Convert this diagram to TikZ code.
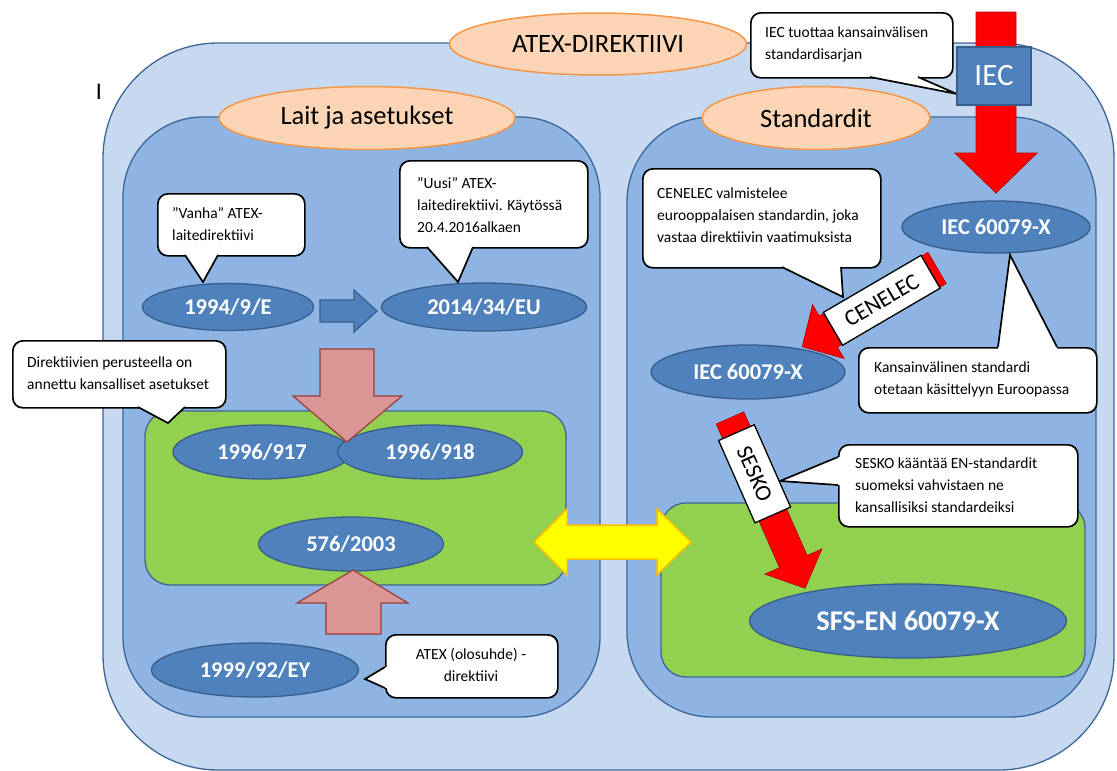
\documentclass[tikz,border=0pt]{standalone}
\usepackage{fontspec}
\setmainfont{Carlito}
\usetikzlibrary{shapes.geometric}
\definecolor{outerblue}{HTML}{C6D9F1}
\definecolor{panelblue}{HTML}{8DB4E2}
\definecolor{edgeblue}{HTML}{3D6696}
\definecolor{darkblue}{HTML}{4F81BD}
\definecolor{darkedge}{HTML}{385D8A}
\definecolor{grn}{HTML}{92D050}
\definecolor{peach}{HTML}{FBD5B5}
\definecolor{peachedge}{HTML}{F79646}
\definecolor{pinkfill}{HTML}{D99694}
\definecolor{pinkedge}{HTML}{9C3C3A}
\definecolor{yel}{HTML}{FFFF00}
\definecolor{yeledge}{HTML}{FFC000}
\definecolor{redarrow}{HTML}{FF0000}
\definecolor{redge}{HTML}{C00000}
\tikzset{
  outerbox/.style={fill=outerblue, draw=edgeblue, line width=1.3pt},
  panel/.style={fill=panelblue, draw=edgeblue, line width=1.3pt},
  greenbox/.style={fill=grn, draw=edgeblue, line width=1.3pt, rounded corners=25pt},
  titleell/.style={ellipse, fill=peach, draw=peachedge, line width=1.5pt, inner sep=0pt, text=black, font=\fontsize{26.5}{30}\selectfont},
  blueell/.style={ellipse, fill=darkblue, draw=darkedge, line width=1.3pt, inner sep=0pt, text=white, font=\bfseries\fontsize{22.5}{26}\selectfont},
  calloutbox/.style={rectangle, rounded corners=10pt, fill=white, draw=black, line width=1.7pt, inner sep=0pt},
  callouttext/.style={inner sep=0pt, align=left, text=black, font=\fontsize{15.5}{22}\selectfont},
  pointerfill/.style={fill=white},
  pointerline/.style={draw=black, line width=1.7pt, line join=miter},
  pinkarrow/.style={fill=pinkfill, draw=pinkedge, line width=1.2pt, line join=miter},
  bluearrow/.style={fill=darkblue, draw=darkedge, line width=1.2pt, line join=miter},
  yelarrow/.style={fill=yel, draw=yeledge, line width=1.5pt, line join=miter},
  redfill/.style={fill=redarrow, draw=redge, line width=0.8pt, line join=miter},
  labelbox/.style={rectangle, draw=black, fill=white, line width=1.3pt, inner sep=0pt, font=\fontsize{23}{25}\selectfont},
}
\begin{document}
\begin{tikzpicture}[x=1pt,y=-1pt]
\useasboundingbox (0,0) rectangle (1117,771);
% containers
\draw[outerbox, rounded corners=115pt] (103,43) rectangle (1114,770);
\draw[panel, rounded corners=80pt] (123,117) rectangle (600,717);
\draw[panel, rounded corners=85pt] (627,117) rectangle (1096,717);
\draw[greenbox] (145,411) rectangle (566,585);
\draw[greenbox] (661,503) rectangle (1085,677);
% titles
\node[titleell, minimum width=297pt, minimum height=62pt] (atex) at (598,44) {ATEX-DIREKTIIVI};
\node[titleell, minimum width=296pt, minimum height=63pt] (lait) at (367,118) {Lait ja asetukset};
\node[titleell, minimum width=228pt, minimum height=63pt] (std) at (816,118) {Standardit};
\node[inner sep=0pt, font=\fontsize{24}{28}\selectfont] (cursor) at (99,92) {I};
% IEC arrow and box
\draw[redfill] (976,12) -- (1016,12) -- (1016,153) -- (1037,153) -- (996,193) -- (955,153) -- (976,153) -- cycle;
% IEC callout
\node[calloutbox, minimum width=202pt, minimum height=65pt, anchor=north west] (c1) at (750,12) {};
\node[callouttext, anchor=west] (c1t) at (765,44) {IEC tuottaa kansainvälisen\\standardisarjan};
\coordinate (c1tip) at (957,94);
\fill[pointerfill] (870,74) -- (870,77) -- (c1tip) -- (918,77) -- (918,74) -- cycle;
\draw[pointerline] (870,77) -- (c1tip) -- (918,77);
\node[draw=darkedge, fill=darkblue, line width=1.3pt, minimum width=74pt, minimum height=58pt, inner sep=0pt, text=white, font=\fontsize{31}{34}\selectfont] (iec) at (994,76) {IEC};
% left side ellipses
\node[blueell, minimum width=171pt, minimum height=47pt] (e1994) at (228,307) {1994/9/E};
\node[blueell, minimum width=205pt, minimum height=48pt] (e2014) at (484,307) {2014/34/EU};
\draw[bluearrow] (320,300) -- (354,300) -- (354,290) -- (377,311) -- (354,332) -- (354,322) -- (320,322) -- cycle;
\node[blueell, minimum width=178pt, minimum height=54pt] (e917) at (262,452) {1996/917};
\node[blueell, minimum width=185pt, minimum height=54pt] (e918) at (430,452) {1996/918};
\node[blueell, minimum width=185pt, minimum height=54pt] (e576) at (351,544) {576/2003};
\node[blueell, minimum width=207pt, minimum height=54pt] (e1999) at (255,670) {1999/92/EY};
\draw[pinkarrow] (320,349) -- (374,349) -- (374,396) -- (402,396) -- (347,442) -- (293,396) -- (320,396) -- cycle;
\draw[pinkarrow] (326,634) -- (381,634) -- (381,603) -- (408,603) -- (353,570) -- (297,603) -- (326,603) -- cycle;
% left callouts
\node[calloutbox, minimum width=147pt, minimum height=62pt, anchor=north west] (c2) at (157,193) {};
\node[callouttext, anchor=west] (c2t) at (172,224) {”Vanha” ATEX-\\laitedirektiivi};
\coordinate (c2tip) at (203,282);
\fill[pointerfill] (185,252) -- (185,255) -- (c2tip) -- (218,255) -- (218,252) -- cycle;
\draw[pointerline] (185,255) -- (c2tip) -- (218,255);
\node[calloutbox, minimum width=188pt, minimum height=87pt, anchor=north west] (c3) at (399,160) {};
\node[callouttext, anchor=west] (c3t) at (417,205) {”Uusi” ATEX-\\laitedirektiivi. Käytössä\\20.4.2016alkaen};
\coordinate (c3tip) at (458,282);
\fill[pointerfill] (427,244) -- (427,247) -- (c3tip) -- (473,247) -- (473,244) -- cycle;
\draw[pointerline] (427,247) -- (c3tip) -- (473,247);
\node[calloutbox, minimum width=213pt, minimum height=67pt, anchor=north west] (c4) at (12,340) {};
\node[callouttext, anchor=west] (c4t) at (27,373) {Direktiivien perusteella on\\annettu kansalliset asetukset};
\coordinate (c4tip) at (168,423);
\fill[pointerfill] (138,404) -- (138,407) -- (c4tip) -- (185,407) -- (185,404) -- cycle;
\draw[pointerline] (138,407) -- (c4tip) -- (185,407);
\node[calloutbox, minimum width=172pt, minimum height=63pt, anchor=north west] (c5) at (385,634) {};
\node[callouttext, align=center] (c5t) at (471,665) {ATEX (olosuhde) -\\direktiivi};
\coordinate (c5tip) at (365,679);
\fill[pointerfill] (388,667) -- (385,667) -- (c5tip) -- (385,688) -- (388,688) -- cycle;
\draw[pointerline] (385,667) -- (c5tip) -- (385,688);
% right side
\node[blueell, minimum width=188pt, minimum height=52pt] (iecA) at (996,227) {IEC 60079-X};
\node[calloutbox, minimum width=238pt, minimum height=99pt, anchor=north west] (c6) at (642,168) {};
\node[callouttext, anchor=west] (c6t) at (657,215) {CENELEC valmistelee\\eurooppalaisen standardin, joka\\vastaa direktiivin vaatimuksista};
\coordinate (c6tip) at (843,297);
\fill[pointerfill] (782,264) -- (782,267) -- (c6tip) -- (841,267) -- (841,264) -- cycle;
\draw[pointerline] (782,267) -- (c6tip) -- (841,267);
\begin{scope}[shift={(937,268)}, rotate=210.3]
  \draw[redfill] (0,-18) -- (126,-18) -- (126,-31) -- (156,0) -- (126,31) -- (126,18) -- (0,18) -- cycle;
  \node[labelbox, minimum width=113pt, minimum height=38pt, rotate=30.3] (cen) at (64,0) {CENELEC};
\end{scope}
\node[blueell, minimum width=194pt, minimum height=54pt] (iecB) at (748,372) {IEC 60079-X};
\node[calloutbox, minimum width=238pt, minimum height=65pt, anchor=north west] (c7) at (858,347) {};
\node[callouttext, anchor=west] (c7t) at (874,379) {Kansainvälinen standardi\\otetaan käsittelyyn Euroopassa};
\coordinate (c7tip) at (1010,255);
\fill[pointerfill] (998,350) -- (998,347) -- (c7tip) -- (1057,347) -- (1057,350) -- cycle;
\draw[pointerline] (998,347) -- (c7tip) -- (1057,347);
\node[calloutbox, minimum width=239pt, minimum height=82pt, anchor=north west] (c8) at (838,444) {};
\node[callouttext, anchor=west] (c8t) at (855,485) {SESKO kääntää EN-standardit\\suomeksi vahvistaen ne\\kansallisiksi standardeiksi};
\coordinate (c8tip) at (780,481);
\fill[pointerfill] (841,457) -- (838,457) -- (c8tip) -- (838,485) -- (841,485) -- cycle;
\draw[pointerline] (838,457) -- (c8tip) -- (838,485);
\begin{scope}[shift={(730,418)}, rotate=-66.2]
  \draw[redfill] (0,-15) -- (157,-15) -- (157,-31) -- (186,0) -- (157,31) -- (157,15) -- (0,15) -- cycle;
  \node[labelbox, minimum width=90pt, minimum height=39pt, rotate=-66.2] (sesko) at (61,0) {SESKO};
\end{scope}
\node[blueell, minimum width=317pt, minimum height=74pt, font=\bfseries\fontsize{28.5}{31}\selectfont] (sfs) at (908,621) {SFS-EN 60079-X};
% yellow double arrow
\draw[yelarrow] (534,542) -- (567,509) -- (567,525) -- (657,525) -- (657,509) -- (691,542) -- (657,575) -- (657,559) -- (567,559) -- (567,575) -- cycle;
\end{tikzpicture}
\end{document}
